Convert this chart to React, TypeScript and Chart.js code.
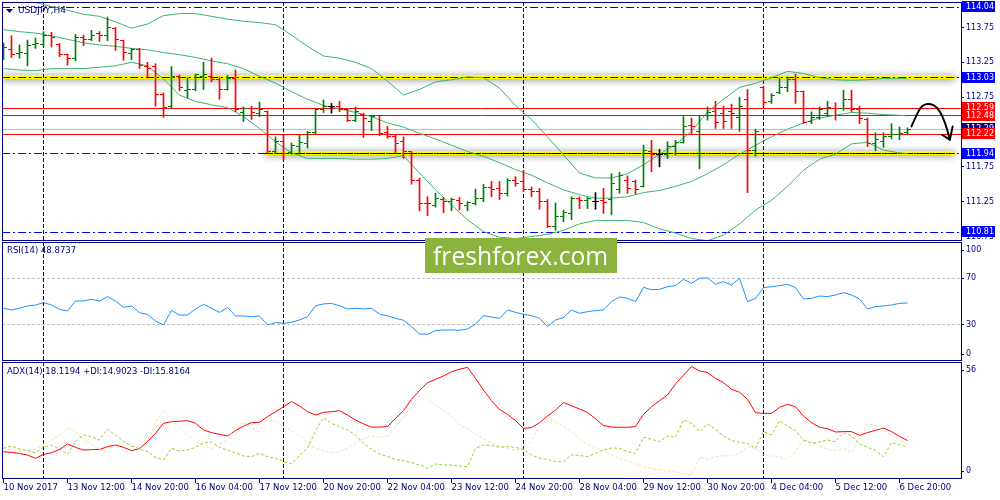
import { useEffect, useRef } from 'react';
import { Chart, registerables } from 'chart.js';

Chart.register(...registerables);

// ---------- data (USDJPY, H4) ----------
const timeLabels = [
  '10 Nov 2017', '13 Nov 12:00', '14 Nov 20:00', '16 Nov 04:00', '17 Nov 12:00',
  '20 Nov 20:00', '22 Nov 04:00', '23 Nov 12:00', '24 Nov 20:00', '28 Nov 04:00',
  '29 Nov 12:00', '30 Nov 20:00', '4 Dec 04:00', '5 Dec 12:00', '6 Dec 20:00',
];
const LABEL_STEP = 8; // a time label every 8 bars
const weekStarts = [5, 35, 65, 95];

const opens = [
  113.43, 113.44, 113.37, 113.38, 113.50, 113.50, 113.63, 113.51, 113.36, 113.30,
  113.60, 113.58, 113.67, 113.64, 113.74, 113.56, 113.38, 113.44, 113.19, 113.19,
  112.79, 112.61, 113.05, 112.84, 112.86, 113.04, 113.05, 113.01, 112.86, 113.02,
  112.53, 112.58, 112.51, 112.55, 111.97, 112.11, 111.95, 112.04, 112.09, 112.24,
  112.57, 112.61, 112.61, 112.57, 112.41, 112.50, 112.40, 112.48, 112.24, 112.19,
  112.11, 111.97, 111.56, 111.23, 111.20, 111.28, 111.25, 111.27, 111.20, 111.22,
  111.29, 111.46, 111.44, 111.36, 111.56, 111.54, 111.42, 111.39, 111.25, 110.89,
  111.03, 111.08, 111.30, 111.27, 111.25, 111.26, 111.28, 111.42, 111.56, 111.54,
  111.47, 111.97, 111.93, 111.92, 112.04, 112.10, 112.35, 112.26, 112.49, 112.54,
  112.52, 112.54, 112.46, 112.72, 111.98, 112.89, 112.69, 112.81, 112.89, 113.00,
  112.83, 112.40, 112.46, 112.52, 112.59, 112.58, 112.72, 112.57, 112.43, 112.08,
  112.11, 112.18, 112.21, 112.24,
];
const highs = [
  113.53, 113.63, 113.50, 113.57, 113.60, 113.69, 113.68, 113.52, 113.37, 113.65,
  113.64, 113.71, 113.69, 113.90, 113.75, 113.57, 113.45, 113.45, 113.25, 113.23,
  112.81, 113.19, 113.07, 113.03, 113.08, 113.25, 113.31, 113.04, 113.06, 113.14,
  112.61, 112.62, 112.68, 112.55, 112.18, 112.21, 112.09, 112.21, 112.26, 112.59,
  112.71, 112.66, 112.69, 112.59, 112.61, 112.52, 112.49, 112.49, 112.33, 112.21,
  112.18, 111.97, 111.59, 111.32, 111.37, 111.31, 111.30, 111.31, 111.25, 111.43,
  111.50, 111.54, 111.54, 111.58, 111.61, 111.70, 111.46, 111.44, 111.28, 111.23,
  111.13, 111.32, 111.32, 111.31, 111.38, 111.44, 111.65, 111.67, 111.62, 111.56,
  112.06, 112.13, 112.00, 112.11, 112.13, 112.47, 112.45, 112.49, 112.61, 112.69,
  112.62, 112.65, 112.75, 112.86, 112.29, 112.90, 112.80, 113.03, 113.04, 113.08,
  112.84, 112.54, 112.61, 112.69, 112.67, 112.85, 112.85, 112.62, 112.45, 112.24,
  112.24, 112.37, 112.32, 112.31,
];
const lows = [
  113.29, 113.32, 113.31, 113.20, 113.45, 113.48, 113.47, 113.33, 113.21, 113.27,
  113.49, 113.56, 113.55, 113.56, 113.42, 113.28, 113.29, 113.16, 113.02, 112.62,
  112.46, 112.59, 112.84, 112.74, 112.84, 112.86, 112.97, 112.72, 112.85, 112.54,
  112.40, 112.43, 112.47, 111.94, 111.94, 111.85, 111.93, 111.93, 112.02, 112.22,
  112.53, 112.52, 112.54, 112.40, 112.40, 112.17, 112.27, 112.20, 112.16, 111.94,
  111.87, 111.50, 111.12, 111.05, 111.17, 111.09, 111.12, 111.13, 111.12, 111.20,
  111.25, 111.32, 111.28, 111.33, 111.47, 111.39, 111.32, 111.14, 110.88, 110.84,
  110.96, 110.99, 111.15, 111.15, 111.14, 111.08, 111.06, 111.37, 111.37, 111.36,
  111.46, 111.68, 111.75, 111.87, 111.92, 112.09, 112.22, 111.72, 112.42, 112.30,
  112.30, 112.30, 112.26, 111.38, 111.90, 112.62, 112.66, 112.80, 112.83, 112.66,
  112.37, 112.37, 112.43, 112.47, 112.42, 112.56, 112.54, 112.37, 112.04, 111.98,
  112.03, 112.15, 112.14, 112.21,
];
const closes = [
  113.46, 113.36, 113.39, 113.49, 113.52, 113.63, 113.61, 113.36, 113.31, 113.60,
  113.58, 113.64, 113.64, 113.75, 113.58, 113.39, 113.43, 113.21, 113.16, 112.79,
  112.60, 113.05, 112.89, 112.86, 113.07, 113.07, 113.00, 112.86, 113.02, 112.57,
  112.58, 112.53, 112.57, 111.97, 112.11, 111.94, 112.06, 112.10, 112.24, 112.57,
  112.62, 112.61, 112.57, 112.41, 112.54, 112.45, 112.47, 112.23, 112.18, 112.08,
  111.97, 111.56, 111.23, 111.22, 111.30, 111.25, 111.28, 111.22, 111.24, 111.29,
  111.46, 111.42, 111.37, 111.56, 111.51, 111.43, 111.39, 111.25, 110.89, 111.03,
  111.09, 111.30, 111.27, 111.29, 111.25, 111.24, 111.51, 111.63, 111.44, 111.43,
  111.99, 111.92, 111.93, 112.04, 112.10, 112.33, 112.33, 112.48, 112.53, 112.38,
  112.40, 112.52, 112.61, 111.98, 112.26, 112.67, 112.78, 112.89, 113.00, 112.83,
  112.38, 112.46, 112.57, 112.60, 112.49, 112.71, 112.57, 112.45, 112.08, 112.14,
  112.18, 112.21, 112.23, 112.29,
];

// Bollinger bands, read every second bar plus the last one
const bbBars = Array.from({ length: 57 }, (_, k) => k * 2).concat(113);
const bbUpper = [
  114.24, 114.17, 114.11, 114.05, 114.00, 113.94, 113.91, 113.83, 113.74, 113.80,
  113.92, 113.95, 113.95, 113.91, 113.87, 113.84, 113.82, 113.79, 113.64, 113.48,
  113.34, 113.31, 113.25, 113.16, 112.98, 112.78, 112.86, 112.97, 113.00, 113.04,
  113.03, 112.88, 112.63, 112.43, 112.18, 111.92, 111.66, 111.59, 111.59, 111.65,
  111.78, 111.93, 112.07, 112.26, 112.54, 112.72, 112.89, 112.95, 113.03, 113.12,
  113.09, 113.03, 113.00, 112.99, 113.00, 113.02, 113.02, 113.02,
];
const bbMiddle = [
  113.72, 113.69, 113.67, 113.63, 113.58, 113.53, 113.50, 113.48, 113.45, 113.43,
  113.39, 113.36, 113.32, 113.27, 113.23, 113.16, 113.05, 112.95, 112.83, 112.72,
  112.63, 112.58, 112.53, 112.47, 112.38, 112.32, 112.23, 112.15, 112.06, 111.97,
  111.90, 111.81, 111.71, 111.63, 111.52, 111.42, 111.35, 111.30, 111.30, 111.32,
  111.38, 111.41, 111.47, 111.54, 111.65, 111.78, 111.93, 112.06, 112.18, 112.29,
  112.38, 112.45, 112.49, 112.53, 112.52, 112.50, 112.49, 112.48,
];
const bbLower = [
  113.16, 113.14, 113.13, 113.16, 113.16, 113.16, 113.18, 113.20, 113.25, 113.20,
  113.01, 112.78, 112.69, 112.64, 112.60, 112.47, 112.30, 112.11, 111.95, 111.87,
  111.87, 111.87, 111.86, 111.86, 111.87, 111.91, 111.66, 111.42, 111.20, 110.99,
  110.82, 110.74, 110.72, 110.75, 110.78, 110.84, 110.93, 110.98, 110.98, 110.98,
  110.95, 110.86, 110.80, 110.72, 110.69, 110.77, 110.93, 111.13, 111.27, 111.47,
  111.70, 111.86, 111.93, 112.08, 112.10, 111.99, 111.95, 111.94,
];

const rsi = [
  44.3, 42.8, 44.3, 46.3, 47.1, 49.1, 47.1, 43.4, 42.0, 50.5,
  50.5, 52.0, 50.5, 54.3, 50.5, 45.1, 46.3, 40.5, 39.1, 33.4,
  30.0, 42.5, 38.5, 38.5, 43.7, 47.7, 44.3, 40.8, 45.1, 37.7,
  37.7, 37.1, 37.7, 30.0, 32.0, 31.4, 32.3, 34.3, 37.1, 46.5,
  48.0, 48.5, 46.5, 43.7, 44.3, 43.7, 44.3, 39.4, 37.7, 35.7,
  34.0, 28.6, 22.3, 22.0, 25.1, 25.7, 25.7, 25.4, 26.6, 30.6,
  38.0, 36.8, 35.7, 42.8, 40.8, 39.1, 38.0, 35.7, 28.6, 34.3,
  36.3, 42.8, 40.0, 41.4, 42.3, 42.8, 50.0, 54.0, 52.8, 50.0,
  62.2, 60.2, 60.5, 62.8, 63.7, 69.1, 65.7, 70.0, 70.5, 64.8,
  67.1, 64.2, 70.0, 50.0, 52.8, 62.0, 62.8, 63.7, 64.8, 62.0,
  52.3, 52.8, 54.8, 54.3, 55.7, 57.7, 55.7, 52.3, 43.7, 45.7,
  46.3, 47.1, 48.5, 48.8737,
];

const adx = [
  12.7, 12.4, 11.8, 11.1, 9.5, 11.4, 12.2, 13.8, 16.4, 14.8,
  13.5, 13.7, 13.8, 15.1, 15.9, 14.8, 13.2, 14.2, 17.6, 21.6,
  26.4, 27.2, 27.4, 27.7, 26.4, 23.2, 21.9, 21.1, 20.3, 22.9,
  25.1, 26.7, 26.9, 29.6, 32.0, 34.4, 36.9, 34.8, 32.0, 30.4,
  31.7, 32.0, 32.5, 30.4, 28.0, 26.1, 24.5, 24.6, 24.8, 28.8,
  32.5, 38.0, 42.2, 46.0, 47.6, 49.3, 51.3, 52.5, 53.4, 48.1,
  42.5, 37.3, 33.1, 30.7, 27.7, 24.0, 24.3, 26.7, 29.9, 32.8,
  36.4, 34.9, 33.3, 31.7, 28.6, 25.3, 24.6, 24.5, 24.5, 24.8,
  30.7, 34.4, 37.3, 40.1, 45.4, 49.7, 53.8, 51.7, 50.9, 48.1,
  46.0, 42.8, 41.4, 38.0, 31.5, 31.2, 31.2, 34.1, 35.6, 34.4,
  29.9, 26.7, 24.5, 23.8, 22.2, 22.4, 22.4, 20.6, 21.9, 23.0,
  24.1, 22.4, 20.0, 18.1194,
];
const plusDI = [
  14.33, 15.45, 14.00, 13.20, 12.24, 14.81, 15.94, 14.17, 11.43, 17.55,
  20.76, 19.96, 18.35, 23.66, 20.60, 17.87, 15.45, 14.17, 12.72, 9.98,
  8.69, 14.33, 13.04, 13.52, 14.81, 17.06, 17.38, 14.81, 13.52, 12.07,
  10.62, 10.30, 11.91, 10.30, 9.50, 7.89, 6.76, 10.95, 14.33, 22.85,
  29.13, 26.40, 24.79, 23.18, 20.76, 16.74, 13.84, 11.59, 10.30, 9.02,
  8.37, 7.41, 6.28, 4.67, 6.76, 6.28, 6.28, 5.80, 5.48, 14.33,
  15.94, 15.77, 14.81, 15.13, 14.81, 13.84, 11.11, 9.50, 9.02, 7.89,
  7.89, 11.11, 10.95, 10.30, 11.91, 13.52, 14.49, 14.33, 12.72, 11.91,
  19.64, 18.67, 17.55, 20.28, 19.64, 28.00, 26.40, 22.37, 26.07, 23.50,
  20.28, 18.03, 17.22, 16.74, 14.33, 22.37, 20.76, 27.68, 25.11, 22.85,
  18.35, 16.74, 17.38, 18.35, 17.55, 21.89, 20.28, 16.42, 14.81, 13.20,
  10.30, 17.06, 15.94, 14.9023,
];
const minusDI = [
  14.33, 13.68, 13.20, 13.36, 13.84, 16.42, 18.19, 20.76, 23.98, 22.70,
  18.35, 16.42, 13.52, 12.40, 15.94, 17.06, 15.13, 15.94, 18.35, 27.20,
  32.83, 28.00, 24.79, 20.76, 17.55, 15.61, 14.17, 16.26, 18.35, 25.59,
  26.72, 24.30, 22.37, 28.33, 27.20, 24.79, 22.85, 20.28, 16.74, 14.33,
  13.20, 12.24, 12.56, 14.33, 17.06, 18.67, 20.28, 19.64, 20.28, 24.79,
  29.61, 34.76, 39.59, 37.98, 35.25, 32.83, 30.10, 25.59, 23.98, 21.25,
  19.00, 16.74, 15.61, 14.17, 13.52, 13.84, 18.03, 24.79, 28.81, 27.20,
  24.79, 22.53, 18.67, 16.42, 14.81, 13.04, 11.11, 9.50, 8.37, 6.76,
  5.48, 4.67, 3.87, 3.38, 2.90, 2.26, 1.45, 9.98, 9.02, 10.30,
  10.79, 10.62, 11.91, 15.13, 14.33, 11.43, 10.62, 9.98, 9.02, 12.72,
  18.35, 17.55, 15.45, 13.84, 13.20, 14.33, 12.24, 18.67, 26.07, 25.43,
  22.85, 20.76, 18.67, 15.8164,
];

// levels and tick labels
const redLevels = [112.59, 112.48, 112.22];
const blueLevels = [114.04, 113.03, 111.94, 110.81];
const bidPrice = 112.29;
const zones = [
  { price: 113.03, from: -0.2, to: 118.9, line: '#0000ff' },
  { price: 111.94, from: 32.7, to: 118.9, line: '#000000' },
];
const priceTicks = [113.75, 113.25, 112.75, 112.25, 111.75, 111.25, 110.75];
const rsiLevels = [70, 30];
const rsiTickText = [100, 70, 30, 0];
const adxTickText = [56, 0];
// hand drawn arrow, in (bar, price)
const arrowPath = [
  [113.5, 112.33], [114.3, 112.54], [114.9, 112.64], [115.8, 112.66],
  [116.7, 112.61], [117.4, 112.47], [117.9, 112.31], [118.3, 112.14],
];
const arrowHead = [[117.3, 112.21], [118.3, 112.14], [118.65, 112.33]];

// ---------- look ----------
const NAVY = '#000080';
const FONT = '"DejaVu Sans"';
const PANE = { price: 239, rsi: 120, adx: 117 };
const X_MIN = -0.1875;
const X_MAX = 119.6875;
const PRICE_MIN = 110.685;
const PRICE_MAX = 114.116;
const RSI_MIN = -0.86;
const RSI_MAX = 101.93;
const ADX_MIN = 0;
const ADX_MAX = 56.48;

const GREEN = '#008000';
const RED = '#ff0000';
const BB = '#3cb371';

const barColor = (o: number, c: number) => (c > o ? GREEN : c < o ? RED : '#000000');

// keep a pane's end labels inside the pane, as the terminal does
const insideLabels = (values: number[], min: number, max: number, px: number) => {
  const unit = (max - min) / px;
  return values.map((v) => Math.min(max - 9 * unit, Math.max(min + 7 * unit, v)));
};

const line = (data: { x: number; y: number }[], color: string, axis: string, dash: number[] = []) => ({
  type: 'line' as const,
  data,
  borderColor: color,
  borderWidth: 1,
  borderDash: dash,
  pointRadius: 0,
  tension: 0,
  yAxisID: axis,
  clip: 0,
});

const mt4Plugin = {
  id: 'mt4',
  beforeDatasetsDraw(chart: any) {
    const { ctx, scales, chartArea } = chart;
    const x = scales.x;
    const yP = scales.yPrice;
    const yR = scales.yRsi;
    const left = x.left;
    const right = x.right;
    const row = (s: any, v: number) => Math.floor(s.getPixelForValue(v)) + 0.5;

    // price pane objects
    ctx.save();
    ctx.beginPath();
    ctx.rect(left, yP.top, right - left, yP.bottom - yP.top - 1);
    ctx.clip();
    ctx.lineWidth = 1;

    ctx.strokeStyle = '#c0c0c0';
    ctx.beginPath();
    ctx.moveTo(left, row(yP, bidPrice));
    ctx.lineTo(right, row(yP, bidPrice));
    ctx.stroke();

    zones.forEach((z) => {
      const y0 = Math.floor(yP.getPixelForValue(z.price));
      const x0 = x.getPixelForValue(z.from);
      const x1 = x.getPixelForValue(z.to);
      ctx.save();
      ctx.shadowColor = 'rgba(0,0,0,0.55)';
      ctx.shadowBlur = 7;
      ctx.shadowOffsetY = 1;
      ctx.fillStyle = '#ffff00';
      ctx.fillRect(x0, y0 - 2, x1 - x0, 4);
      ctx.restore();
    });

    ctx.setLineDash([8, 3, 2, 3]);
    ctx.strokeStyle = '#0000ff';
    blueLevels.forEach((p) => {
      ctx.beginPath();
      ctx.moveTo(left, row(yP, p));
      ctx.lineTo(right, row(yP, p));
      ctx.stroke();
    });
    zones.forEach((z) => {
      ctx.strokeStyle = z.line;
      ctx.beginPath();
      ctx.moveTo(x.getPixelForValue(z.from), row(yP, z.price));
      ctx.lineTo(x.getPixelForValue(z.to), row(yP, z.price));
      ctx.stroke();
    });
    ctx.setLineDash([]);
    ctx.strokeStyle = RED;
    redLevels.forEach((p) => {
      ctx.beginPath();
      ctx.moveTo(left, row(yP, p));
      ctx.lineTo(right, row(yP, p));
      ctx.stroke();
    });
    ctx.restore();

    // RSI levels
    ctx.save();
    ctx.strokeStyle = '#c0c0c0';
    ctx.setLineDash([3, 2]);
    ctx.lineWidth = 1;
    rsiLevels.forEach((v) => {
      ctx.beginPath();
      ctx.moveTo(left, row(yR, v));
      ctx.lineTo(right, row(yR, v));
      ctx.stroke();
    });
    ctx.restore();

    // week separators
    ctx.save();
    ctx.strokeStyle = NAVY;
    ctx.setLineDash([4, 2]);
    ctx.lineWidth = 1;
    weekStarts.forEach((b) => {
      const px = Math.floor(x.getPixelForValue(b)) + 0.5;
      ctx.beginPath();
      ctx.moveTo(px, chartArea.top);
      ctx.lineTo(px, chartArea.bottom);
      ctx.stroke();
    });
    ctx.restore();
  },

  afterDatasetsDraw(chart: any) {
    const { ctx, scales } = chart;
    const x = scales.x;
    const yP = scales.yPrice;
    const yR = scales.yRsi;
    const yA = scales.yAdx;
    const left = x.left;
    const right = x.right;

    // open / close ticks
    ctx.save();
    ctx.beginPath();
    ctx.rect(left, yP.top, right - left, yP.bottom - yP.top - 1);
    ctx.clip();
    opens.forEach((o, i) => {
      const c = closes[i];
      const col = Math.floor(x.getPixelForValue(i));
      ctx.fillStyle = barColor(o, c);
      ctx.fillRect(col - 3, Math.floor(yP.getPixelForValue(o)), 3, 1);
      ctx.fillRect(col + 1, Math.floor(yP.getPixelForValue(c)), 3, 1);
    });

    // arrow
    const pt = (p: number[]) => [x.getPixelForValue(p[0]), yP.getPixelForValue(p[1])];
    ctx.strokeStyle = '#000000';
    ctx.lineWidth = 2;
    ctx.lineCap = 'round';
    ctx.lineJoin = 'round';
    const pts = arrowPath.map(pt);
    ctx.beginPath();
    ctx.moveTo(pts[0][0], pts[0][1]);
    for (let k = 1; k < pts.length - 1; k++) {
      const mx = (pts[k][0] + pts[k + 1][0]) / 2;
      const my = (pts[k][1] + pts[k + 1][1]) / 2;
      ctx.quadraticCurveTo(pts[k][0], pts[k][1], mx, my);
    }
    ctx.lineTo(pts[pts.length - 1][0], pts[pts.length - 1][1]);
    ctx.stroke();
    const head = arrowHead.map(pt);
    ctx.beginPath();
    ctx.moveTo(head[0][0], head[0][1]);
    ctx.lineTo(head[1][0], head[1][1]);
    ctx.lineTo(head[2][0], head[2][1]);
    ctx.stroke();
    ctx.restore();

    // pane frames
    ctx.save();
    ctx.strokeStyle = NAVY;
    ctx.lineWidth = 1;
    const frame = (top: number, bottom: number) => {
      ctx.strokeRect(left + 0.5, top + 0.5, right - left, bottom - top);
    };
    frame(yP.top, yP.bottom - 1);
    frame(yR.top + 1, yR.bottom - 1);
    frame(yA.top + 1, yA.bottom);
    ctx.restore();

    // pane titles
    ctx.save();
    ctx.fillStyle = NAVY;
    ctx.textBaseline = 'middle';
    ctx.beginPath();
    ctx.moveTo(left + 4, yP.top + 7);
    ctx.lineTo(left + 11, yP.top + 7);
    ctx.lineTo(left + 7.5, yP.top + 11);
    ctx.closePath();
    ctx.fill();
    ctx.font = `9px ${FONT}`;
    ctx.fillText('USDJPY,H4', left + 16, yP.top + 9);
    ctx.font = `8.5px ${FONT}`;
    ctx.fillText(`RSI(14) ${rsi[rsi.length - 1].toFixed(4)}`, left + 5, yR.top + 10);
    ctx.fillText(
      `ADX(14) ${adx[adx.length - 1].toFixed(4)} +DI:${plusDI[plusDI.length - 1].toFixed(4)} -DI:${minusDI[minusDI.length - 1].toFixed(4)}`,
      left + 5,
      yA.top + 10.5,
    );
    ctx.restore();

    // price labels on the axis
    ctx.save();
    ctx.font = `8px ${FONT}`;
    ctx.textBaseline = 'middle';
    const box = (price: number, color: string) => {
      const top = Math.round(yP.getPixelForValue(price)) - 6;
      ctx.fillStyle = color;
      ctx.fillRect(right + 1, top, 33, 11);
      ctx.fillStyle = '#ffffff';
      ctx.fillText(price.toFixed(2), right + 5, top + 6);
    };
    blueLevels.forEach((p) => box(p, '#0000ff'));
    box(bidPrice, NAVY);
    redLevels.forEach((p) => box(p, RED));
    ctx.restore();
  },

  afterDraw(chart: any) {
    const { ctx } = chart;
    ctx.save();
    ctx.fillStyle = '#8db33f';
    ctx.fillRect(425, 238, 192, 35);
    ctx.fillStyle = '#ffffff';
    ctx.font = '24.7px "Open Sans"';
    ctx.textBaseline = 'alphabetic';
    ctx.fillText('freshforex.com', 433, 265);
    ctx.restore();
  },
};

export default function App() {
  const canvasRef = useRef<HTMLCanvasElement>(null);

  useEffect(() => {
    if (!canvasRef.current) return;

    const tickFont = { family: FONT, size: 8.5 };
    const priceFont = { family: FONT, size: 8 };
    const yAxis = (weight: number, stackWeight: number, min: number, max: number) => ({
      type: 'linear' as const,
      position: 'right' as const,
      stack: 'panes',
      stackWeight,
      weight,
      min,
      max,
      afterFit: (s: any) => {
        s.width = 39;
        s.paddingTop = 0;
        s.paddingBottom = 0;
      },
      grid: { drawOnChartArea: false, drawTicks: true, tickLength: 3, color: NAVY },
      border: { display: false },
    });

    const chart = new Chart(canvasRef.current, {
      type: 'bar',
      data: {
        datasets: [
          {
            type: 'bar',
            data: highs.map((h, i) => ({ x: i, y: [lows[i], h] })),
            backgroundColor: opens.map((o, i) => barColor(o, closes[i])),
            borderWidth: 0,
            barThickness: 1,
            yAxisID: 'yPrice',
            clip: 0,
          } as any,
          line(bbBars.map((b, k) => ({ x: b, y: bbUpper[k] })), BB, 'yPrice'),
          line(bbBars.map((b, k) => ({ x: b, y: bbMiddle[k] })), BB, 'yPrice'),
          line(bbBars.map((b, k) => ({ x: b, y: bbLower[k] })), BB, 'yPrice'),
          line(rsi.map((v, i) => ({ x: i, y: v })), '#1e90ff', 'yRsi'),
          line(plusDI.map((v, i) => ({ x: i, y: v })), '#9acd32', 'yAdx', [3, 2]),
          line(minusDI.map((v, i) => ({ x: i, y: v })), '#f5deb3', 'yAdx', [3, 2]),
          line(adx.map((v, i) => ({ x: i, y: v })), RED, 'yAdx'),
        ],
      },
      options: {
        animation: false,
        responsive: true,
        maintainAspectRatio: false,
        events: [],
        layout: { padding: { top: 2, left: 2, right: 0, bottom: 0 } },
        plugins: {
          legend: { display: false },
          tooltip: { enabled: false },
        },
        scales: {
          x: {
            type: 'linear',
            position: 'bottom',
            min: X_MIN,
            max: X_MAX,
            offset: false,
            afterBuildTicks: (s: any) => {
              s.ticks = timeLabels.map((_, k) => ({ value: k * LABEL_STEP }));
            },
            afterFit: (s: any) => {
              s.height = 22;
              s.paddingLeft = 0;
              s.paddingRight = 0;
            },
            ticks: {
              autoSkip: false,
              maxRotation: 0,
              minRotation: 0,
              align: 'start',
              padding: 0,
              color: NAVY,
              font: tickFont,
              callback: (v: any) => timeLabels[Math.round(Number(v) / LABEL_STEP)],
            },
            grid: { drawOnChartArea: false, drawTicks: true, tickLength: 5, color: NAVY, offset: false },
            border: { display: false },
          },
          yPrice: {
            ...yAxis(1, PANE.price, PRICE_MIN, PRICE_MAX),
            afterBuildTicks: (s: any) => {
              s.ticks = priceTicks.map((v) => ({ value: v }));
            },
            ticks: {
              autoSkip: false,
              padding: 2,
              color: NAVY,
              font: priceFont,
              callback: (v: any) => Number(v).toFixed(2),
            },
          },
          yRsi: {
            ...yAxis(2, PANE.rsi, RSI_MIN, RSI_MAX),
            afterBuildTicks: (s: any) => {
              s.ticks = insideLabels(rsiTickText, RSI_MIN, RSI_MAX, PANE.rsi).map((v) => ({ value: v }));
            },
            ticks: {
              autoSkip: false,
              padding: 2,
              color: NAVY,
              font: priceFont,
              callback: (_: any, i: number) => String(rsiTickText[i]),
            },
          },
          yAdx: {
            ...yAxis(3, PANE.adx, ADX_MIN, ADX_MAX),
            afterBuildTicks: (s: any) => {
              s.ticks = insideLabels(adxTickText, ADX_MIN, ADX_MAX, PANE.adx).map((v) => ({ value: v }));
            },
            ticks: {
              autoSkip: false,
              padding: 2,
              color: NAVY,
              font: priceFont,
              callback: (_: any, i: number) => String(adxTickText[i]),
            },
          },
        },
      } as any,
      plugins: [mt4Plugin],
    });

    return () => {
      chart.destroy();
    };
  }, []);

  return (
    <div style={{ position: 'fixed', left: 0, top: 0, width: 1000, height: 500, background: '#ffffff' }}>
      <canvas ref={canvasRef} />
    </div>
  );
}
